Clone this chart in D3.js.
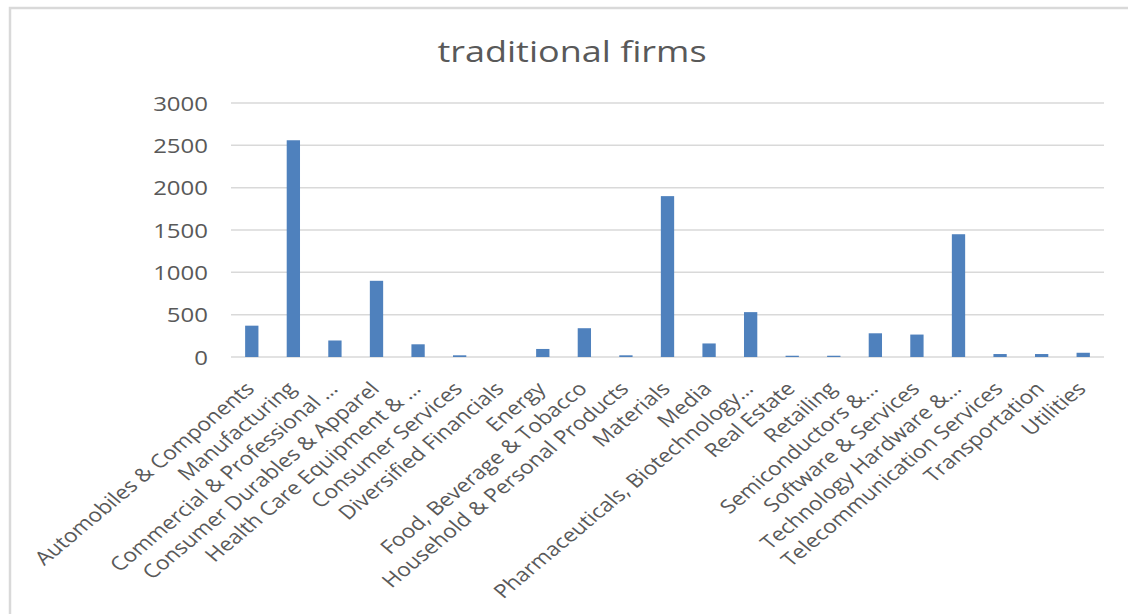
<!DOCTYPE html>
<html>
<head>
<meta charset="utf-8">
<script src="https://cdn.jsdelivr.net/npm/d3@7"></script>
<style>
  html, body { margin: 0; padding: 0; background: #fff; }
  svg { display: block; }
  text { font-family: "Open Sans", "Noto Sans", sans-serif; fill: #595959; }
</style>
</head>
<body>
<svg id="chart" width="1128" height="614"></svg>
<script>
// Number of traditional firms per industry group
const categories = [
  "Automobiles & Components",
  "Manufacturing",
  "Commercial & Professional …",
  "Consumer Durables & Apparel",
  "Health Care Equipment & …",
  "Consumer Services",
  "Diversified Financials",
  "Energy",
  "Food, Beverage & Tobacco",
  "Household & Personal Products",
  "Materials",
  "Media",
  "Pharmaceuticals, Biotechnology…",
  "Real Estate",
  "Retailing",
  "Semiconductors &…",
  "Software & Services",
  "Technology Hardware &…",
  "Telecommunication Services",
  "Transportation",
  "Utilities"
];
const firmCounts = [370, 2560, 195, 900, 150, 20, 0, 95, 340, 20, 1900, 160, 530, 15, 15, 280, 265, 1450, 35, 35, 50];
const yTicks = [0, 500, 1000, 1500, 2000, 2500, 3000];
const chartTitle = "traditional firms";

const svg = d3.select("#chart");
const W = 1128, H = 614;
const plot = { left: 231, right: 1104, top: 103, bottom: 357 };
const stretch = 1.2; // text is drawn slightly wide

// Outer chart frame
svg.append("rect")
  .attr("x", 10).attr("y", 8)
  .attr("width", W + 50).attr("height", H + 50)
  .attr("fill", "#fff")
  .attr("stroke", "#d9d9d9").attr("stroke-width", 2.5);

const x = d3.scaleBand()
  .domain(categories)
  .range([plot.left, plot.right])
  .paddingInner(0.68)
  .paddingOuter(0.34);

const y = d3.scaleLinear()
  .domain([0, 3000])
  .range([plot.bottom, plot.top]);

// Horizontal gridlines
svg.append("g")
  .selectAll("line")
  .data(yTicks)
  .join("line")
  .attr("x1", plot.left).attr("x2", plot.right)
  .attr("y1", d => y(d)).attr("y2", d => y(d))
  .attr("stroke", "#d9d9d9").attr("stroke-width", 1.5);

// Y axis labels
const yAxis = d3.axisLeft(y).tickValues(yTicks).tickFormat(d3.format("d")).tickSize(0).tickPadding(0);
svg.append("g")
  .attr("transform", `translate(${208},0)`)
  .call(yAxis)
  .call(g => g.select(".domain").remove())
  .call(g => g.selectAll("text")
    .attr("fill", "#595959")
    .style("font-family", '"Open Sans", sans-serif')
    .style("font-size", "20px")
    .attr("x", 0)
    .attr("dy", "0.36em")
    .attr("transform", `scale(${stretch},1)`));

// Bars
svg.append("g")
  .selectAll("rect")
  .data(firmCounts)
  .join("rect")
  .attr("x", (d, i) => x(categories[i]))
  .attr("width", x.bandwidth())
  .attr("y", d => y(d))
  .attr("height", d => y(0) - y(d))
  .attr("fill", "#4f81bd");

// Category labels, rotated 45 degrees
const xAxis = d3.axisBottom(x).tickSize(0).tickPadding(0);
svg.append("g")
  .attr("transform", `translate(0,${plot.bottom})`)
  .call(xAxis)
  .call(g => g.select(".domain").remove())
  .call(g => g.selectAll("text")
    .attr("fill", "#595959")
    .style("font-family", '"Open Sans", sans-serif')
    .style("font-size", "19px")
    .attr("text-anchor", "end")
    .attr("dy", null)
    .attr("y", null)
    .attr("transform", `translate(4,33) scale(${stretch},1) rotate(-45)`));

// Title
svg.append("text")
  .attr("transform", `translate(572,62) scale(${stretch},1)`)
  .attr("text-anchor", "middle")
  .style("font-size", "30px")
  .text(chartTitle);
</script>
</body>
</html>
